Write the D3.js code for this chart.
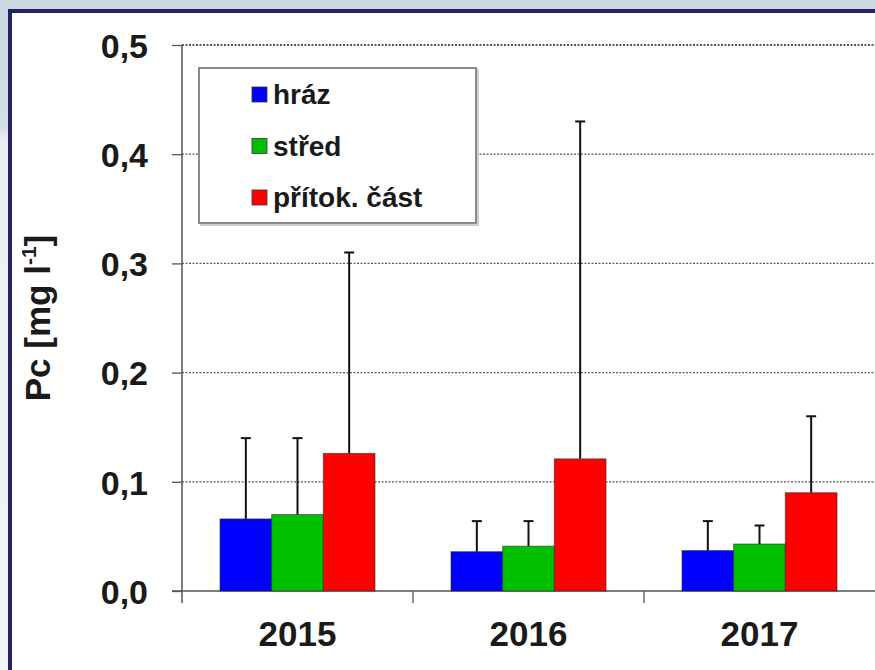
<!DOCTYPE html>
<html>
<head>
<meta charset="utf-8">
<script src="https://cdn.jsdelivr.net/npm/d3@7"></script>
<style>
  html, body { margin: 0; padding: 0; background: #fff; }
  svg { display: block; }
  text { font-family: "Liberation Sans", Arial, sans-serif; font-weight: bold; fill: #1a1a1a; }
</style>
</head>
<body>
<svg id="chart" width="875" height="670"></svg>
<script>
// Mean Pc per year and sampling site, with standard deviation for the error bars
const years = ["2015", "2016", "2017"];
const series = ["hráz", "střed", "přítok. část"];
const colors = ["#0000ff", "#00c000", "#ff0000"];
const meanHraz   = [0.066, 0.036, 0.037];
const meanStred  = [0.070, 0.041, 0.043];
const meanPritok = [0.126, 0.121, 0.090];
const sdHraz   = [0.074, 0.028, 0.027];
const sdStred  = [0.070, 0.023, 0.017];
const sdPritok = [0.184, 0.309, 0.070];
const yTicks = [0, 0.1, 0.2, 0.3, 0.4, 0.5];

const means = [meanHraz, meanStred, meanPritok];
const sds = [sdHraz, sdStred, sdPritok];
const rows = [];
years.forEach((yr, i) => {
  series.forEach((s, j) => {
    rows.push({ year: yr, series: s, idx: j, mean: means[j][i], sd: sds[j][i] });
  });
});

const svg = d3.select("#chart");
const W = 875, H = 670;

// slide frame
svg.append("rect").attr("width", W).attr("height", H).attr("fill", "#ffffff");
const defs = svg.append("defs");
const lg = defs.append("linearGradient").attr("id", "sideBand").attr("x1", 0).attr("y1", 0).attr("x2", 0).attr("y2", 1);
lg.append("stop").attr("offset", "0").attr("stop-color", "#cad7e1");
lg.append("stop").attr("offset", "0.19").attr("stop-color", "#d3dee6");
lg.append("stop").attr("offset", "0.21").attr("stop-color", "#eceff2");
lg.append("stop").attr("offset", "1").attr("stop-color", "#f1f3f5");
svg.append("rect").attr("x", 0).attr("y", 0).attr("width", 10).attr("height", H).attr("fill", "url(#sideBand)");
svg.append("rect").attr("x", 0).attr("y", 0).attr("width", W).attr("height", 10).attr("fill", "#cbd8e2");
svg.append("rect").attr("x", 10).attr("y", 11).attr("width", W + 20).attr("height", H + 20)
  .attr("fill", "#ffffff").attr("stroke", "#22226b").attr("stroke-width", 4);

// scales
const plotLeft = 182, plotRight = 875, plotTop = 45, plotBottom = 591;
const x0 = d3.scaleBand().domain(years).range([plotLeft, plotRight]).padding(0);
const bw = x0.bandwidth();
const x1 = d3.scaleBand().domain(series).range([bw * 0.1645, bw * 0.8355]).padding(0);
const y = d3.scaleLinear().domain([0, 0.5]).range([plotBottom, plotTop]);

// gridlines
svg.append("g").selectAll("line").data(yTicks.filter(d => d > 0)).join("line")
  .attr("x1", plotLeft).attr("x2", W)
  .attr("y1", d => y(d)).attr("y2", d => y(d))
  .attr("stroke", "#5a5a5a").attr("stroke-width", d => d === 0.5 ? 1.8 : 1.3)
  .attr("stroke-dasharray", "2,1.5");

// y axis
const yAxis = d3.axisLeft(y).tickValues(yTicks).tickSize(10).tickPadding(24)
  .tickFormat(d => d3.format(".1f")(d).replace(".", ","));
const gy = svg.append("g").attr("transform", `translate(${plotLeft},0)`).call(yAxis);
gy.select(".domain").remove();
gy.selectAll(".tick line").attr("stroke", "#555").attr("stroke-width", 1.3);
gy.selectAll(".tick text").attr("font-size", 34).attr("fill", "#1a1a1a")
  .attr("font-family", "Liberation Sans, Arial, sans-serif").attr("font-weight", "bold").attr("dy", "0.36em");
svg.append("line").attr("x1", plotLeft).attr("x2", plotLeft).attr("y1", plotTop).attr("y2", plotBottom + 12)
  .attr("stroke", "#555").attr("stroke-width", 1.5);

// x axis
svg.append("line").attr("x1", plotLeft - 10).attr("x2", W).attr("y1", plotBottom).attr("y2", plotBottom)
  .attr("stroke", "#555").attr("stroke-width", 1.5);
svg.append("g").selectAll("line").data(years.slice(1)).join("line")
  .attr("x1", d => x0(d)).attr("x2", d => x0(d))
  .attr("y1", plotBottom).attr("y2", plotBottom + 12)
  .attr("stroke", "#555").attr("stroke-width", 1.3);
svg.append("g").selectAll("text").data(years).join("text")
  .attr("x", d => x0(d) + bw / 2).attr("y", 646)
  .attr("text-anchor", "middle").attr("font-size", 35)
  .text(d => d);

// bars
const gBars = svg.append("g");
gBars.selectAll("rect").data(rows).join("rect")
  .attr("x", d => x0(d.year) + x1(d.series))
  .attr("width", x1.bandwidth())
  .attr("y", d => y(d.mean))
  .attr("height", d => y(0) - y(d.mean))
  .attr("fill", d => colors[d.idx])
  .attr("stroke", "#2a2a2a").attr("stroke-width", 1).attr("stroke-opacity", 0.6);

// error bars (upper half)
const gErr = svg.append("g").attr("stroke", "#111").attr("stroke-width", 2);
gErr.selectAll("line.v").data(rows).join("line").attr("class", "v")
  .attr("x1", d => x0(d.year) + x1(d.series) + x1.bandwidth() / 2)
  .attr("x2", d => x0(d.year) + x1(d.series) + x1.bandwidth() / 2)
  .attr("y1", d => y(d.mean)).attr("y2", d => y(d.mean + d.sd));
gErr.selectAll("line.c").data(rows).join("line").attr("class", "c")
  .attr("x1", d => x0(d.year) + x1(d.series) + x1.bandwidth() / 2 - 5)
  .attr("x2", d => x0(d.year) + x1(d.series) + x1.bandwidth() / 2 + 5)
  .attr("y1", d => y(d.mean + d.sd)).attr("y2", d => y(d.mean + d.sd));

// legend
const lgX = 199, lgY = 68, lgW = 277, lgH = 155;
svg.append("rect").attr("x", lgX + 2).attr("y", lgY + 2).attr("width", lgW).attr("height", lgH)
  .attr("fill", "none").attr("stroke", "#cfcfcf").attr("stroke-width", 2);
svg.append("rect").attr("x", lgX).attr("y", lgY).attr("width", lgW).attr("height", lgH)
  .attr("fill", "#fff").attr("stroke", "#8a8a8a").attr("stroke-width", 2);
const legItems = svg.append("g").selectAll("g").data(series).join("g")
  .attr("transform", (d, i) => `translate(252, ${94 + i * 51.5})`);
legItems.append("rect").attr("x", 0).attr("y", -7).attr("width", 15).attr("height", 15)
  .attr("fill", (d, i) => colors[i]).attr("stroke", "#333").attr("stroke-width", 0.8);
legItems.append("text").attr("x", 21).attr("y", 10).attr("font-size", 28).text(d => d);

// y axis title
const yt = svg.append("text").attr("transform", "translate(50, 318) rotate(-90)")
  .attr("text-anchor", "middle").attr("font-size", 35);
yt.append("tspan").text("Pc [mg l");
yt.append("tspan").attr("font-size", 21).attr("dy", -14).text("-1");
yt.append("tspan").attr("dy", 14).text("]");
</script>
</body>
</html>
